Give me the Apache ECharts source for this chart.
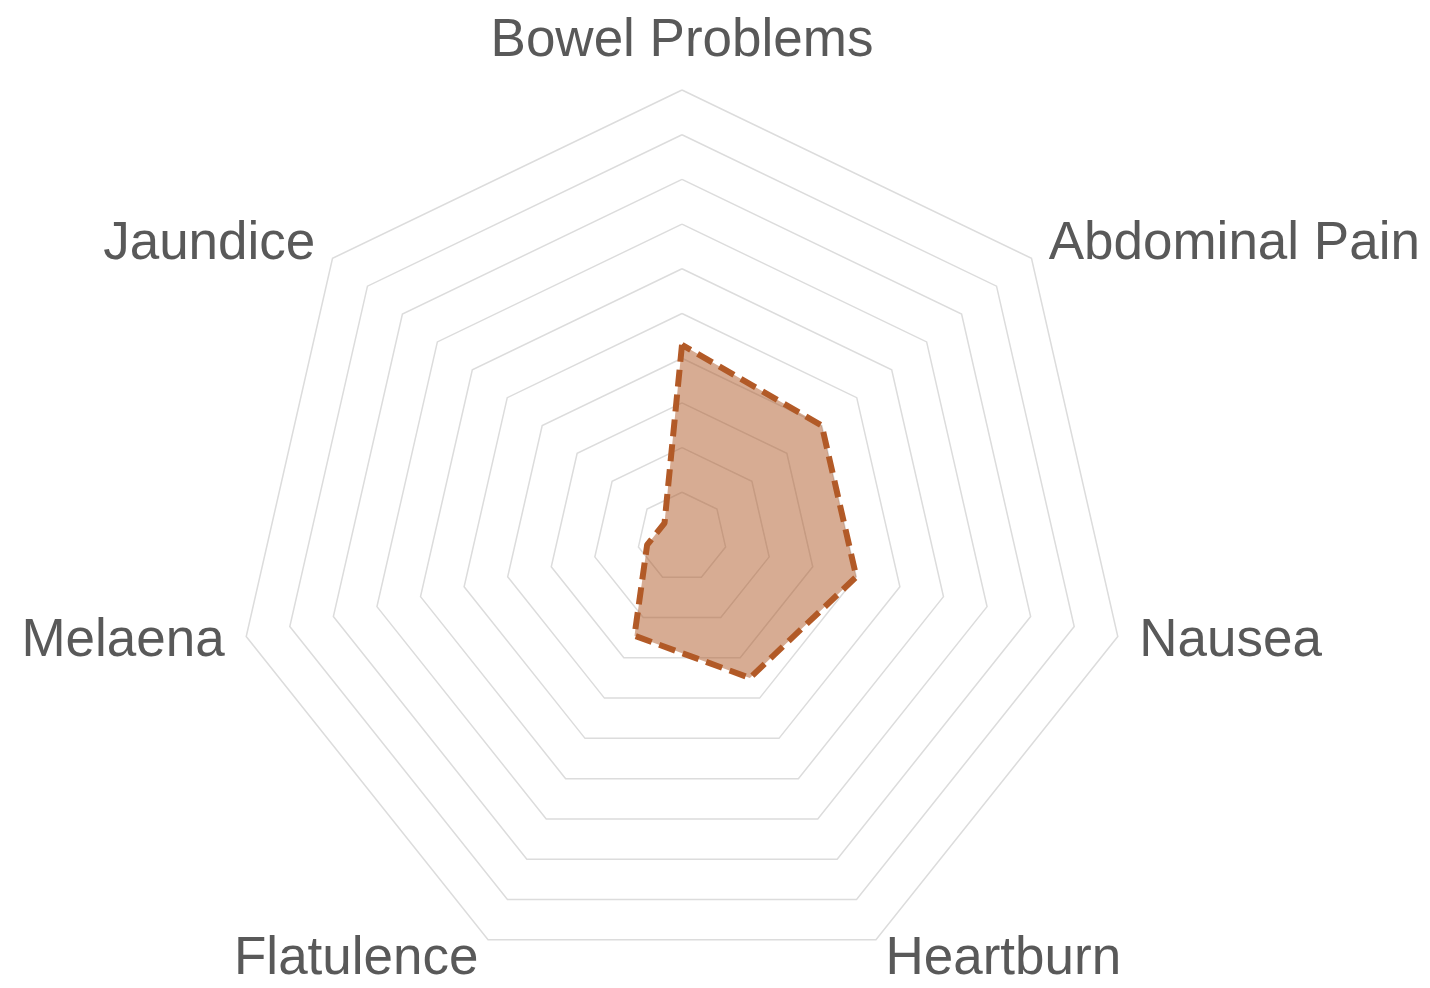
<!DOCTYPE html>
<html>
<head>
<meta charset="utf-8">
<script src="https://cdn.jsdelivr.net/npm/echarts@6/dist/echarts.min.js"></script>
<style>
  html, body { margin: 0; padding: 0; background: #fff; }
  #chart { width: 1430px; height: 988px; }
</style>
</head>
<body>
<div id="chart"></div>
<script>
  // indicator names, clockwise from the top
  var symptoms = ['Bowel Problems', 'Abdominal Pain', 'Nausea', 'Heartburn', 'Flatulence', 'Melaena', 'Jaundice'];
  var scores = [4.3, 4.0, 4.0, 3.5, 2.45, 0.8, 0.5];
  var maxScore = 10;

  var myChart = echarts.init(document.getElementById('chart'));
  var option = {
    animation: false,
    radar: {
      center: [682, 537],
      radius: 447,
      startAngle: 90,
      splitNumber: 10,
      shape: 'polygon',
      // ECharts goes counter-clockwise, reference goes clockwise
      indicator: [symptoms[0]].concat(symptoms.slice(1).reverse()).map(function (n) {
        return {name: n, max: maxScore, min: 0};
      }),
      axisName: {
        color: '#595959',
        fontSize: 53,
        fontFamily: 'Liberation Sans, Arial, sans-serif',
        padding: [8, 0, 0, 0]
      },
      nameGap: 22,
      axisLine: {show: false},
      axisTick: {show: false},
      axisLabel: {show: false},
      splitArea: {show: false},
      splitLine: {
        lineStyle: {color: '#dcdcdc', width: 1.5}
      }
    },
    series: [{
      type: 'radar',
      symbol: 'none',
      lineStyle: {
        color: '#b35a27',
        width: 6,
        type: [17, 8],
        join: 'round',
        opacity: 1
      },
      areaStyle: {
        color: '#b05a28',
        opacity: 0.5
      },
      data: [{
        name: 'Symptoms',
        value: [scores[0]].concat(scores.slice(1).reverse())
      }]
    }]
  };
  myChart.setOption(option);
</script>
</body>
</html>
